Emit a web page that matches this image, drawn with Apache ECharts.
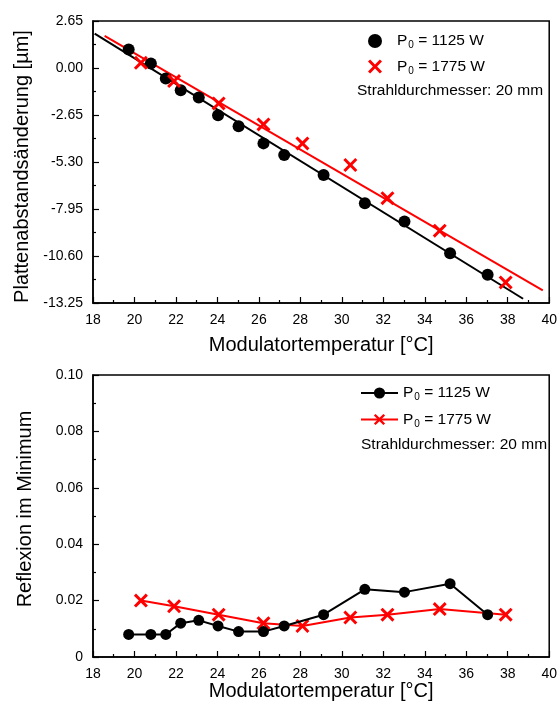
<!DOCTYPE html>
<html>
<head>
<meta charset="utf-8">
<script src="https://cdn.jsdelivr.net/npm/echarts@6/dist/echarts.min.js"></script>
<style>
html,body{margin:0;padding:0;background:#fff;}
#c{width:560px;height:709px;}
</style>
</head>
<body>
<div id="c"></div>
<script>
// ---- data ----
const tempA = [19.72, 20.79, 21.51, 22.23, 23.1, 24.03, 25.02, 26.22, 27.22, 29.12, 31.11, 33.02, 35.22, 37.03];
const shiftA = [1.04, 0.25, -0.59, -1.25, -1.66, -2.66, -3.28, -4.25, -4.91, -6.03, -7.63, -8.66, -10.44, -11.66];
const reflA = [0.008, 0.008, 0.008, 0.012, 0.013, 0.011, 0.009, 0.009, 0.011, 0.015, 0.024, 0.023, 0.026, 0.015];

const tempB = [20.31, 21.91, 24.06, 26.22, 28.1, 30.41, 32.2, 34.72, 37.9];
const shiftB = [0.29, -0.74, -2.0, -3.18, -4.25, -5.47, -7.34, -9.17, -12.09];
const reflB = [0.020, 0.018, 0.015, 0.012, 0.011, 0.014, 0.015, 0.017, 0.015];

const fitA_T = [18.08, 38.74];
const fitA_V = [1.94, -13.01];
const fitB_T = [18.56, 39.69];
const fitB_V = [1.81, -12.54];

const nameA = 'P0 = 1125 W';
const nameB = 'P0 = 1775 W';
const noteText = 'Strahldurchmesser: 20 mm';
const xTitle = 'Modulatortemperatur [°C]';
const yTitleTop = 'Plattenabstandsänderung [µm]';
const yTitleBottom = 'Reflexion im Minimum';

// ---- helpers ----
const zip = (a, b) => a.map((v, i) => [v, b[i]]);
const XPATH = 'path://M0,3 L3,0 L10,7 L17,0 L20,3 L13,10 L20,17 L17,20 L10,13 L3,20 L0,17 L7,10 Z';
const FONT = '"Liberation Sans", Arial, Helvetica, sans-serif';

const legendFormatter = function (name) {
  const rest = name.substring(2);
  return '{a|P}{s|0}{a|' + rest + '}';
};
const legendRich = {
  a: { fontSize: 15.5, fontFamily: FONT, color: '#000' },
  s: { fontSize: 10, fontFamily: FONT, color: '#000', padding: [9, 0, 0, 1] }
};

function xAxisCfg(gridIndex, nameGap) {
  return {
    gridIndex: gridIndex, type: 'value', min: 18, max: 40, interval: 2,
    name: xTitle, nameLocation: 'middle', nameGap: nameGap,
    nameTextStyle: { fontSize: 20, fontFamily: FONT, color: '#000' },
    axisLine: { show: true, onZero: false, lineStyle: { color: '#000', width: 1.5 } },
    axisTick: { show: true, inside: true, length: 6, lineStyle: { color: '#000', width: 1.2 } },
    minorTick: { show: true, splitNumber: 2, length: 3, lineStyle: { color: '#000', width: 1.2 } },
    axisLabel: { fontSize: 14, fontFamily: FONT, color: '#000', margin: 10 },
    splitLine: { show: false }
  };
}

const option = {
  animation: false,
  backgroundColor: '#fff',
  grid: [
    { left: 93, right: 7, top: 21, bottom: 406, show: true, borderColor: '#000', borderWidth: 1.5 },
    { left: 93, right: 7, top: 375, bottom: 52, show: true, borderColor: '#000', borderWidth: 1.5 }
  ],
  xAxis: [xAxisCfg(0, 32), xAxisCfg(1, 22)],
  yAxis: [
    {
      gridIndex: 0, type: 'value', min: -13.25, max: 2.65, interval: 2.65,
      name: yTitleTop, nameLocation: 'middle', nameGap: 58,
      nameTextStyle: { fontSize: 20, fontFamily: FONT, color: '#000', padding: [0, 9, 0, 0] },
      axisLine: { show: true, onZero: false, lineStyle: { color: '#000', width: 1.5 } },
      axisTick: { show: true, inside: true, length: 6, lineStyle: { color: '#000', width: 1.2 } },
      minorTick: { show: true, splitNumber: 2, length: 3, lineStyle: { color: '#000', width: 1.2 } },
      axisLabel: { fontSize: 14, fontFamily: FONT, color: '#000', margin: 10,
        formatter: v => (Math.abs(v) < 1e-9 ? 0 : v).toFixed(2) },
      splitLine: { show: false }
    },
    {
      gridIndex: 1, type: 'value', min: 0, max: 0.1, interval: 0.02,
      name: yTitleBottom, nameLocation: 'middle', nameGap: 58,
      nameTextStyle: { fontSize: 20, fontFamily: FONT, color: '#000', padding: [0, 0, 0, 14] },
      axisLine: { show: true, onZero: false, lineStyle: { color: '#000', width: 1.5 } },
      axisTick: { show: true, inside: true, length: 6, lineStyle: { color: '#000', width: 1.2 } },
      minorTick: { show: true, splitNumber: 2, length: 3, lineStyle: { color: '#000', width: 1.2 } },
      axisLabel: { fontSize: 14, fontFamily: FONT, color: '#000', margin: 10,
        formatter: v => (Math.abs(v) < 1e-9 ? '0' : v.toFixed(2)) },
      splitLine: { show: false }
    }
  ],
  legend: [
    {
      left: 363, top: 28, orient: 'vertical', itemWidth: 18, itemHeight: 14, itemGap: 8,
      data: ['topA', 'topB'],
      formatter: n => legendFormatter(n === 'topA' ? nameA : nameB),
      textStyle: { rich: legendRich, padding: [0, 0, 0, 8] },
      selectedMode: false
    },
    {
      left: 355, top: 380, orient: 'vertical', itemWidth: 37, itemHeight: 14, itemGap: 9,
      data: ['botA', 'botB'],
      formatter: n => legendFormatter(n === 'botA' ? nameA : nameB),
      textStyle: { rich: legendRich, padding: [0, 0, 0, 0] },
      selectedMode: false
    }
  ],
  graphic: [
    { type: 'text', left: 357, top: 83, style: { text: noteText, font: '15.5px ' + FONT, fill: '#000' } },
    { type: 'text', left: 361, top: 437, style: { text: noteText, font: '15.5px ' + FONT, fill: '#000' } }
  ],
  series: [
    { name: 'fitA', type: 'line', xAxisIndex: 0, yAxisIndex: 0, data: zip(fitA_T, fitA_V),
      showSymbol: false, symbol: 'none', lineStyle: { color: '#000', width: 2 }, z: 1 },
    { name: 'fitB', type: 'line', xAxisIndex: 0, yAxisIndex: 0, data: zip(fitB_T, fitB_V),
      showSymbol: false, symbol: 'none', lineStyle: { color: '#ff0000', width: 2 }, z: 1 },
    { name: 'topA', type: 'scatter', xAxisIndex: 0, yAxisIndex: 0, data: zip(tempA, shiftA),
      symbol: 'circle', symbolSize: 12, itemStyle: { color: '#000', opacity: 1 }, z: 3 },
    { name: 'topB', type: 'scatter', xAxisIndex: 0, yAxisIndex: 0, data: zip(tempB, shiftB),
      symbol: XPATH, symbolSize: 14, itemStyle: { color: '#ff0000', opacity: 1 }, z: 3 },
    { name: 'botA', type: 'line', xAxisIndex: 1, yAxisIndex: 1, data: zip(tempA, reflA),
      symbol: 'circle', symbolSize: 11, showAllSymbol: true,
      itemStyle: { color: '#000' }, lineStyle: { color: '#000', width: 2 }, z: 3 },
    { name: 'botB', type: 'line', xAxisIndex: 1, yAxisIndex: 1, data: zip(tempB, reflB),
      symbol: XPATH, symbolSize: 14, showAllSymbol: true,
      itemStyle: { color: '#ff0000' }, lineStyle: { color: '#ff0000', width: 2 }, z: 2 }
  ]
};

const chart = echarts.init(document.getElementById('c'), null, { renderer: 'canvas' });
chart.setOption(option);
</script>
</body>
</html>
